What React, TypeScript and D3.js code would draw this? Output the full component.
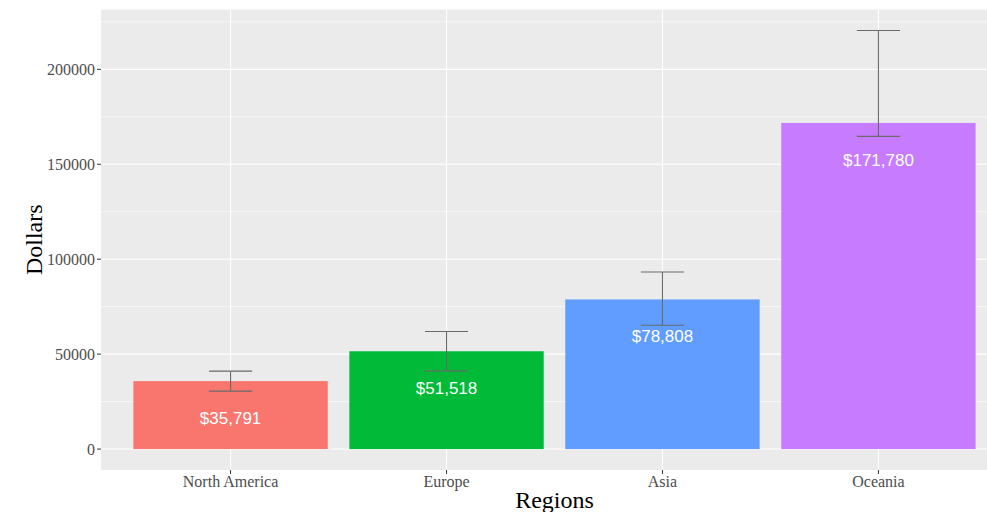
import { useEffect, useRef } from 'react';
import * as d3 from 'd3';

// data
const regions = ['North America', 'Europe', 'Asia', 'Oceania'];
const means = [35791, 51518, 78808, 171780];
const upper = [41050, 61900, 93300, 220500];
const lower = [30500, 41200, 65250, 164700];
const barColors = ['#F8766D', '#00BA38', '#619CFF', '#C77CFF'];
const yTicks = [0, 50000, 100000, 150000, 200000];
const yMinor = [25000, 75000, 125000, 175000, 225000];

const W = 987;
const H = 512;

const App = () => {
  const ref = useRef<SVGSVGElement | null>(null);

  useEffect(() => {
    if (!ref.current) return;
    const svg = d3.select(ref.current);
    svg.selectAll('*').remove();

    const left = 101;
    const top = 9.5;
    const bottom = 470;
    const right = 1008;

    const x = d3.scalePoint<string>().domain(regions).range([left, right]).padding(0.6);
    const step = x.step();
    const maxV = d3.max(upper) as number;
    const pad = maxV * 0.05;
    const y = d3.scaleLinear().domain([-pad, maxV + pad]).range([bottom, top]);

    const serif = '"Liberation Serif", "Times New Roman", serif';
    const sans = '"Liberation Sans", Arial, sans-serif';

    // panel
    svg.append('rect')
      .attr('x', left).attr('y', top)
      .attr('width', right - left).attr('height', bottom - top)
      .attr('fill', '#EBEBEB');

    // grid
    svg.selectAll('.minor').data(yMinor).enter().append('line')
      .attr('x1', left).attr('x2', right)
      .attr('y1', d => y(d)).attr('y2', d => y(d))
      .attr('stroke', '#fff').attr('stroke-width', 0.6);
    svg.selectAll('.major').data(yTicks).enter().append('line')
      .attr('x1', left).attr('x2', right)
      .attr('y1', d => y(d)).attr('y2', d => y(d))
      .attr('stroke', '#fff').attr('stroke-width', 1.1);
    svg.selectAll('.vmajor').data(regions).enter().append('line')
      .attr('x1', d => x(d) as number).attr('x2', d => x(d) as number)
      .attr('y1', top).attr('y2', bottom)
      .attr('stroke', '#fff').attr('stroke-width', 1.1);

    const rows = regions.map((r, i) => ({ r, v: means[i], hi: upper[i], lo: lower[i], c: barColors[i] }));

    // bars
    const bw = step * 0.9;
    svg.selectAll('.bar').data(rows).enter().append('rect')
      .attr('x', d => (x(d.r) as number) - bw / 2)
      .attr('y', d => y(d.v))
      .attr('width', bw)
      .attr('height', d => y(0) - y(d.v))
      .attr('fill', d => d.c);

    // error bars
    const ew = step * 0.2;
    const eb = svg.selectAll('.err').data(rows).enter().append('g')
      .attr('stroke', '#6a6a6a').attr('stroke-width', 1.1).attr('fill', 'none');
    eb.append('line')
      .attr('x1', d => x(d.r) as number).attr('x2', d => x(d.r) as number)
      .attr('y1', d => y(d.hi)).attr('y2', d => y(d.lo));
    eb.append('line')
      .attr('x1', d => (x(d.r) as number) - ew / 2).attr('x2', d => (x(d.r) as number) + ew / 2)
      .attr('y1', d => y(d.hi)).attr('y2', d => y(d.hi));
    eb.append('line')
      .attr('x1', d => (x(d.r) as number) - ew / 2).attr('x2', d => (x(d.r) as number) + ew / 2)
      .attr('y1', d => y(d.lo)).attr('y2', d => y(d.lo));

    // value labels
    svg.selectAll('.lab').data(rows).enter().append('text')
      .attr('x', d => x(d.r) as number)
      .attr('y', d => y(d.v) + 43)
      .attr('text-anchor', 'middle')
      .style('font-family', sans)
      .style('font-size', '17px')
      .style('fill', '#fff')
      .text(d => '$' + d3.format(',')(d.v));

    // y axis
    const ya = svg.append('g');
    ya.selectAll('line').data(yTicks).enter().append('line')
      .attr('x1', left - 4).attr('x2', left)
      .attr('y1', d => y(d)).attr('y2', d => y(d))
      .attr('stroke', '#333').attr('stroke-width', 1);
    ya.selectAll('text').data(yTicks).enter().append('text')
      .attr('x', left - 6)
      .attr('y', d => y(d))
      .attr('dy', '0.35em')
      .attr('text-anchor', 'end')
      .style('font-family', serif)
      .style('font-size', '16px')
      .style('fill', '#4D4D4D')
      .text(d => String(d));

    // x axis
    const xa = svg.append('g');
    xa.selectAll('line').data(regions).enter().append('line')
      .attr('x1', d => x(d) as number).attr('x2', d => x(d) as number)
      .attr('y1', bottom).attr('y2', bottom + 4)
      .attr('stroke', '#333').attr('stroke-width', 1);
    xa.selectAll('text').data(regions).enter().append('text')
      .attr('x', d => x(d) as number)
      .attr('y', 487)
      .attr('text-anchor', 'middle')
      .style('font-family', serif)
      .style('font-size', '16px')
      .style('fill', '#4D4D4D')
      .text(d => d);

    // titles
    svg.append('text')
      .attr('x', (left + right) / 2)
      .attr('y', 508)
      .attr('text-anchor', 'middle')
      .style('font-family', serif)
      .style('font-size', '24px')
      .style('fill', '#000')
      .text('Regions');
    svg.append('text')
      .attr('transform', `translate(42, ${(top + bottom) / 2}) rotate(-90)`)
      .attr('text-anchor', 'middle')
      .style('font-family', serif)
      .style('font-size', '24px')
      .style('fill', '#000')
      .text('Dollars');
  }, []);

  return (
    <svg ref={ref} width={W} height={H}
      style={{ position: 'absolute', left: 0, top: 0, background: '#fff', overflow: 'hidden' }} />
  );
};

export default App;
